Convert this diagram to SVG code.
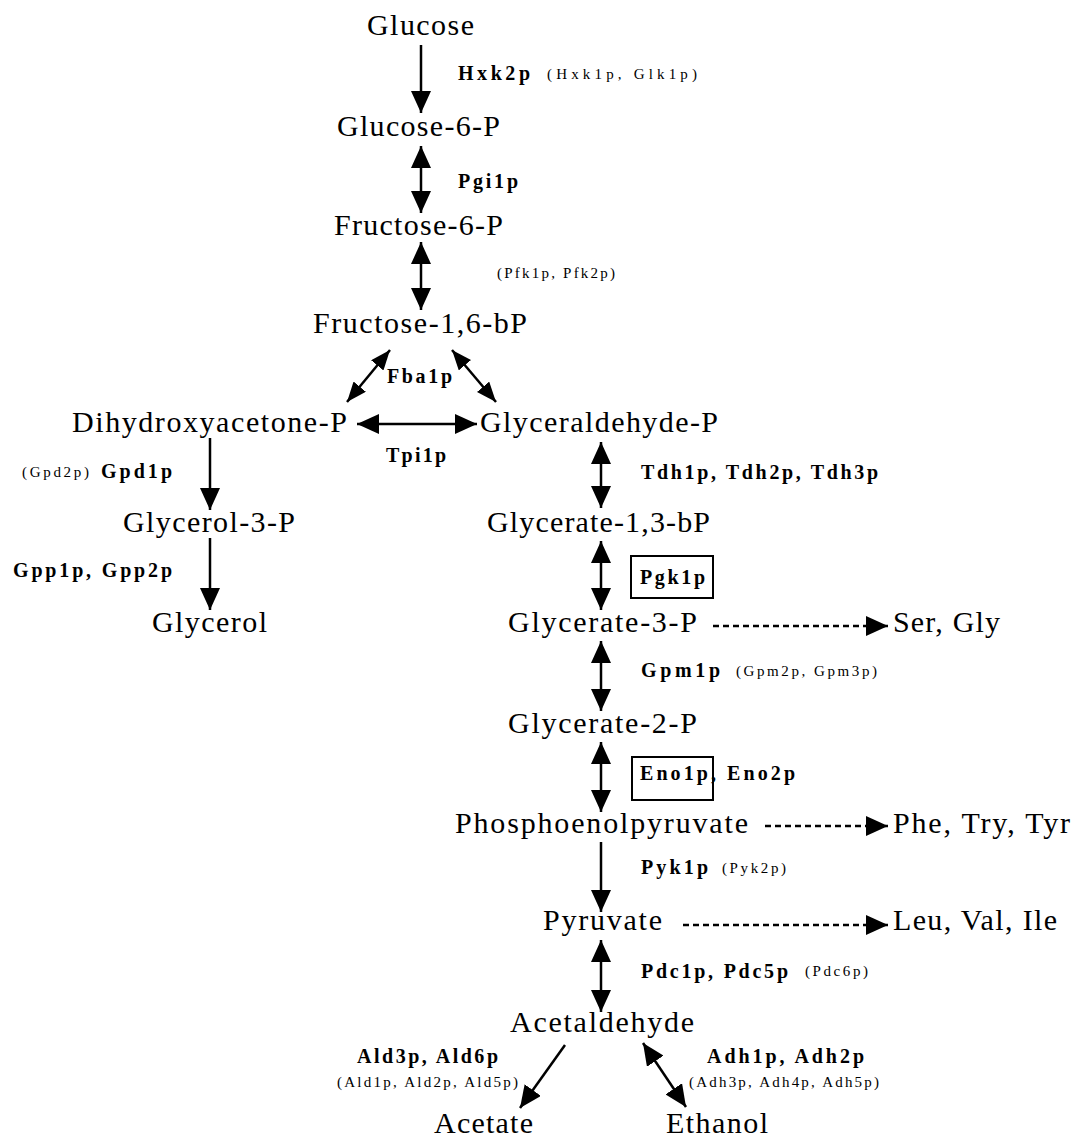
<svg xmlns="http://www.w3.org/2000/svg" width="1071" height="1140" viewBox="0 0 1071 1140">
<style>
.m{font-family:"Liberation Serif",serif;font-size:30px;fill:#000}
.b{font-family:"Liberation Serif",serif;font-size:20px;font-weight:bold;fill:#000}
.s{font-family:"Liberation Serif",serif;font-size:15px;fill:#000}
.ln{stroke:#000;stroke-width:2.5;fill:none}
.dt{stroke:#000;stroke-width:2.5;fill:none;stroke-dasharray:6 4}
.box{stroke:#000;stroke-width:2;fill:none}
</style>
<defs>
<marker id="ah" viewBox="0 0 22 20" refX="22" refY="10" markerWidth="22" markerHeight="20" markerUnits="userSpaceOnUse" orient="auto-start-reverse"><path d="M0,0 L22,10 L0,20 z" fill="#000"/></marker>
<marker id="ahs" viewBox="0 0 20 16" refX="20" refY="8" markerWidth="20" markerHeight="16" markerUnits="userSpaceOnUse" orient="auto-start-reverse"><path d="M0,0 L20,8 L0,16 z" fill="#000"/></marker>
</defs>
<rect width="1071" height="1140" fill="#fff"/>
<g id="connectors">
<line class="ln" x1="421" y1="45" x2="421" y2="113" marker-end="url(#ah)"/>
<line class="ln" x1="421" y1="146" x2="421" y2="213" marker-start="url(#ah)" marker-end="url(#ah)"/>
<line class="ln" x1="421" y1="242" x2="421" y2="310" marker-start="url(#ah)" marker-end="url(#ah)"/>
<line class="ln" x1="390" y1="350" x2="347" y2="402" marker-start="url(#ahs)" marker-end="url(#ahs)"/>
<line class="ln" x1="452" y1="350" x2="496" y2="402" marker-start="url(#ahs)" marker-end="url(#ahs)"/>
<line class="ln" x1="357" y1="424" x2="477" y2="424" marker-start="url(#ah)" marker-end="url(#ah)"/>
<line class="ln" x1="210" y1="438" x2="210" y2="510" marker-end="url(#ah)"/>
<line class="ln" x1="210" y1="538" x2="210" y2="610" marker-end="url(#ah)"/>
<line class="ln" x1="601" y1="442" x2="601" y2="508" marker-start="url(#ah)" marker-end="url(#ah)"/>
<line class="ln" x1="601" y1="541" x2="601" y2="610" marker-start="url(#ah)" marker-end="url(#ah)"/>
<line class="ln" x1="601" y1="641" x2="601" y2="711" marker-start="url(#ah)" marker-end="url(#ah)"/>
<line class="ln" x1="601" y1="742" x2="601" y2="812" marker-start="url(#ah)" marker-end="url(#ah)"/>
<line class="ln" x1="601" y1="842" x2="601" y2="912" marker-end="url(#ah)"/>
<line class="ln" x1="601" y1="940" x2="601" y2="1012" marker-start="url(#ah)" marker-end="url(#ah)"/>
<line class="ln" x1="565" y1="1045" x2="520" y2="1108" marker-end="url(#ah)"/>
<line class="ln" x1="643" y1="1043" x2="686" y2="1107" marker-start="url(#ah)" marker-end="url(#ah)"/>
<line class="dt" x1="713" y1="626" x2="888" y2="626" marker-end="url(#ah)"/>
<line class="dt" x1="765" y1="826" x2="888" y2="826" marker-end="url(#ah)"/>
<line class="dt" x1="683" y1="925" x2="888" y2="925" marker-end="url(#ah)"/>
</g>
<g id="glucose"><text class="m" x="367" y="35" textLength="107" lengthAdjust="spacing">Glucose</text></g>
<g id="glucose6p"><text class="m" x="337" y="136" textLength="163" lengthAdjust="spacing">Glucose-6-P</text></g>
<g id="fructose6p"><text class="m" x="334" y="235" textLength="169" lengthAdjust="spacing">Fructose-6-P</text></g>
<g id="fructose16bp"><text class="m" x="313" y="333" textLength="214" lengthAdjust="spacing">Fructose-1,6-bP</text></g>
<g id="dhap"><text class="m" x="72" y="432" textLength="275" lengthAdjust="spacing">Dihydroxyacetone-P</text></g>
<g id="gap"><text class="m" x="480" y="432" textLength="238" lengthAdjust="spacing">Glyceraldehyde-P</text></g>
<g id="glycerol3p"><text class="m" x="123" y="532" textLength="172" lengthAdjust="spacing">Glycerol-3-P</text></g>
<g id="glycerol"><text class="m" x="152" y="632" textLength="115" lengthAdjust="spacing">Glycerol</text></g>
<g id="g13bp"><text class="m" x="487" y="532" textLength="223" lengthAdjust="spacing">Glycerate-1,3-bP</text></g>
<g id="g3p"><text class="m" x="508" y="632" textLength="189" lengthAdjust="spacing">Glycerate-3-P</text></g>
<g id="sergly"><text class="m" x="893" y="632" textLength="107" lengthAdjust="spacing">Ser, Gly</text></g>
<g id="g2p"><text class="m" x="508" y="733" textLength="189" lengthAdjust="spacing">Glycerate-2-P</text></g>
<g id="pep"><text class="m" x="455" y="833" textLength="293" lengthAdjust="spacing">Phosphoenolpyruvate</text></g>
<g id="phetrytyr"><text class="m" x="893" y="833" textLength="177" lengthAdjust="spacing">Phe, Try, Tyr</text></g>
<g id="pyruvate"><text class="m" x="543" y="930" textLength="119" lengthAdjust="spacing">Pyruvate</text></g>
<g id="leuvalile"><text class="m" x="893" y="930" textLength="164" lengthAdjust="spacing">Leu, Val, Ile</text></g>
<g id="acetaldehyde"><text class="m" x="510" y="1032" textLength="184" lengthAdjust="spacing">Acetaldehyde</text></g>
<g id="acetate"><text class="m" x="434" y="1133" textLength="99" lengthAdjust="spacing">Acetate</text></g>
<g id="ethanol"><text class="m" x="666" y="1133" textLength="102" lengthAdjust="spacing">Ethanol</text></g>
<g id="enzymes">
<text class="b" x="458" y="80" textLength="72" lengthAdjust="spacing">Hxk2p</text>
<text class="s" x="547" y="79" textLength="150" lengthAdjust="spacing">(Hxk1p, Glk1p)</text>
<text class="b" x="458" y="188" textLength="60" lengthAdjust="spacing">Pgi1p</text>
<text class="s" x="497" y="278" textLength="118" lengthAdjust="spacing">(Pfk1p, Pfk2p)</text>
<text class="b" x="387" y="383" textLength="65" lengthAdjust="spacing">Fba1p</text>
<text class="b" x="386" y="462" textLength="60" lengthAdjust="spacing">Tpi1p</text>
<text class="s" x="22" y="477" textLength="67" lengthAdjust="spacing">(Gpd2p)</text>
<text class="b" x="101" y="478" textLength="71" lengthAdjust="spacing">Gpd1p</text>
<text class="b" x="13" y="577" textLength="159" lengthAdjust="spacing">Gpp1p, Gpp2p</text>
<text class="b" x="641" y="479" textLength="237" lengthAdjust="spacing">Tdh1p, Tdh2p, Tdh3p</text>
<rect class="box" x="631" y="556" width="82" height="42"/>
<text class="b" x="640" y="584" textLength="65" lengthAdjust="spacing">Pgk1p</text>
<text class="b" x="641" y="677" textLength="79" lengthAdjust="spacing">Gpm1p</text>
<text class="s" x="736" y="676" textLength="141" lengthAdjust="spacing">(Gpm2p, Gpm3p)</text>
<rect class="box" x="632" y="757" width="81" height="43"/>
<text class="b" x="640" y="780" textLength="155" lengthAdjust="spacing">Eno1p, Eno2p</text>
<text class="b" x="641" y="874" textLength="67" lengthAdjust="spacing">Pyk1p</text>
<text class="s" x="722" y="873" textLength="64" lengthAdjust="spacing">(Pyk2p)</text>
<text class="b" x="641" y="978" textLength="147" lengthAdjust="spacing">Pdc1p, Pdc5p</text>
<text class="s" x="805" y="976" textLength="63" lengthAdjust="spacing">(Pdc6p)</text>
<text class="b" x="357" y="1063" textLength="141" lengthAdjust="spacing">Ald3p, Ald6p</text>
<text class="s" x="337" y="1087" textLength="181" lengthAdjust="spacing">(Ald1p, Ald2p, Ald5p)</text>
<text class="b" x="707" y="1063" textLength="157" lengthAdjust="spacing">Adh1p, Adh2p</text>
<text class="s" x="689" y="1087" textLength="190" lengthAdjust="spacing">(Adh3p, Adh4p, Adh5p)</text>
</g>
</svg>
